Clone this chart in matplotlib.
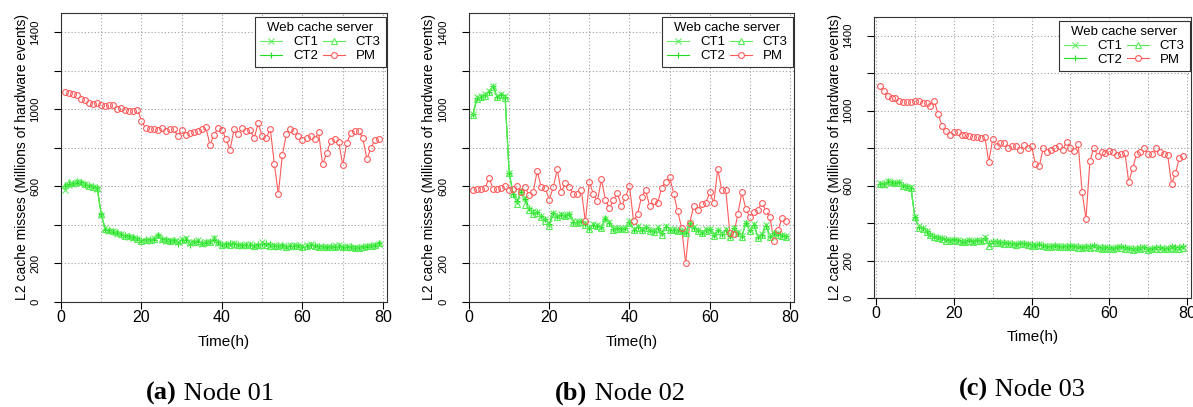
"""L2 cache misses of a web cache server on three nodes (CT1-CT3 containers vs PM)."""
import numpy as np
import matplotlib
matplotlib.use("Agg")
import matplotlib.pyplot as plt
from matplotlib.collections import LineCollection
from matplotlib.lines import Line2D

plt.rcParams["font.family"] = ["Liberation Sans", "DejaVu Sans"]

HOURS = np.arange(1, 80)

PM_A = [1089, 1084, 1077, 1072, 1054, 1047, 1035, 1030, 1032, 1025,
        1018, 1020, 1021, 1004, 1009, 999, 992, 992, 999, 940,
        902, 899, 899, 895, 902, 885, 897, 900, 859, 894,
        869, 876, 881, 890, 900, 906, 817, 868, 902, 895,
        845, 790, 897, 873, 902, 890, 894, 850, 928, 859,
        852, 900, 717, 560, 764, 871, 899, 888, 864, 842,
        852, 862, 845, 880, 714, 771, 835, 845, 833, 710,
        824, 878, 887, 888, 850, 741, 798, 842, 845]
CT1_A = [580, 608, 615, 625, 618, 612, 600, 596, 588, 450,
         382, 368, 370, 355, 352, 340, 335, 332, 325, 315,
         318, 322, 330, 340, 322, 318, 324, 316, 310, 326,
         330, 306, 310, 320, 302, 312, 310, 330, 306, 296,
         298, 300, 308, 296, 290, 302, 300, 290, 292, 310,
         296, 290, 296, 288, 290, 286, 294, 298, 290, 292,
         296, 300, 290, 286, 284, 288, 286, 294, 296, 284,
         290, 282, 286, 280, 286, 292, 290, 296, 300]
CT2_A = [600, 615, 620, 618, 624, 608, 606, 600, 595, 455,
         375, 374, 362, 360, 348, 346, 340, 336, 330, 320,
         326, 328, 324, 348, 330, 326, 318, 322, 300, 320,
         322, 296, 318, 312, 310, 308, 318, 322, 314, 300,
         302, 306, 300, 300, 298, 298, 296, 296, 300, 302,
         308, 300, 292, 296, 298, 292, 290, 290, 294, 288,
         292, 294, 296, 292, 290, 284, 290, 288, 290, 288,
         286, 290, 282, 284, 290, 288, 294, 292, 304]
CT3_A = [608, 625, 616, 626, 622, 612, 604, 598, 590, 455,
         380, 372, 368, 362, 352, 344, 340, 336, 328, 318,
         322, 324, 326, 350, 326, 322, 318, 320, 316, 322,
         326, 312, 314, 316, 306, 310, 312, 330, 310, 298,
         300, 298, 302, 296, 294, 296, 298, 292, 294, 296,
         294, 292, 290, 292, 296, 288, 290, 292, 290, 288,
         292, 296, 290, 288, 286, 284, 286, 288, 290, 284,
         286, 284, 282, 280, 284, 290, 290, 294, 306]

PM_B = [581, 584, 584, 591, 645, 588, 588, 591, 600, 582,
        586, 603, 569, 595, 553, 570, 681, 595, 591, 532,
        596, 688, 570, 619, 596, 560, 560, 579, 418, 624,
        560, 525, 636, 531, 487, 531, 565, 496, 544, 603,
        422, 455, 546, 581, 500, 524, 512, 591, 624, 650,
        563, 472, 384, 202, 410, 496, 475, 510, 515, 569,
        513, 691, 581, 581, 358, 353, 455, 569, 482, 441,
        468, 479, 515, 474, 441, 318, 372, 436, 423]
CT1_B = [975, 1062, 1068, 1078, 1095, 1122, 1068, 1078, 1068, 672,
         565, 530, 568, 540, 485, 470, 468, 448, 432, 410,
         462, 448, 455, 452, 458, 420, 418, 420, 410, 385,
         405, 398, 390, 430, 415, 382, 385, 382, 386, 420,
         380, 392, 378, 390, 375, 372, 388, 362, 392, 378,
         380, 375, 370, 362, 410, 390, 375, 362, 378, 380,
         350, 375, 360, 378, 345, 386, 362, 342, 412, 376,
         405, 340, 352, 398, 345, 360, 356, 350, 345]
CT2_B = [978, 1060, 1066, 1075, 1092, 1120, 1066, 1075, 1066, 670,
         562, 525, 570, 535, 490, 468, 465, 445, 430, 405,
         460, 445, 452, 450, 455, 415, 415, 418, 405, 382,
         402, 395, 388, 432, 412, 378, 382, 380, 384, 415,
         376, 390, 375, 388, 372, 370, 385, 358, 390, 375,
         376, 372, 368, 360, 408, 386, 372, 360, 375, 378,
         346, 372, 355, 375, 342, 384, 360, 340, 410, 374,
         402, 336, 350, 395, 342, 358, 352, 346, 342]
CT3_B = [971, 1055, 1062, 1070, 1090, 1115, 1062, 1072, 1060, 668,
         560, 510, 575, 505, 478, 455, 460, 440, 420, 395,
         455, 440, 450, 445, 452, 410, 410, 415, 400, 378,
         398, 392, 384, 436, 408, 372, 380, 378, 380, 410,
         372, 385, 372, 384, 368, 365, 380, 350, 388, 372,
         372, 368, 366, 356, 405, 382, 368, 356, 370, 374,
         340, 368, 348, 370, 338, 380, 356, 336, 410, 370,
         400, 332, 346, 392, 338, 356, 348, 342, 338]

PM_C = [1133, 1106, 1079, 1067, 1067, 1052, 1047, 1047, 1047, 1049,
        1049, 1043, 1043, 1026, 1052, 981, 918, 894, 870, 885,
        888, 870, 870, 865, 858, 858, 856, 861, 726, 847,
        812, 829, 829, 803, 809, 814, 790, 817, 801, 814,
        715, 703, 799, 781, 790, 803, 809, 790, 835, 803,
        785, 820, 567, 423, 729, 803, 760, 778, 776, 785,
        781, 763, 769, 776, 617, 692, 769, 781, 799, 769,
        769, 799, 781, 769, 763, 610, 665, 747, 756]
CT1_C = [612, 605, 625, 615, 612, 618, 600, 592, 590, 435,
         382, 372, 355, 338, 328, 322, 318, 312, 310, 312,
         308, 300, 305, 308, 304, 308, 305, 325, 284, 300,
         298, 296, 294, 292, 290, 288, 292, 290, 286, 284,
         282, 286, 280, 278, 276, 280, 276, 278, 274, 280,
         276, 272, 270, 274, 272, 276, 270, 268, 272, 268,
         266, 270, 272, 268, 266, 262, 264, 268, 270, 262,
         264, 266, 268, 264, 266, 270, 266, 268, 272]
CT2_C = [610, 612, 618, 620, 615, 620, 602, 596, 588, 432,
         378, 376, 358, 340, 330, 325, 320, 315, 312, 314,
         310, 304, 306, 310, 306, 310, 308, 318, 292, 304,
         302, 300, 298, 294, 292, 290, 294, 292, 288, 286,
         285, 290, 282, 280, 280, 282, 278, 280, 276, 282,
         278, 275, 272, 276, 275, 285, 272, 270, 274, 270,
         268, 272, 276, 270, 268, 265, 266, 270, 272, 264,
         268, 270, 270, 266, 268, 275, 270, 270, 275]
CT3_C = [608, 610, 622, 618, 614, 616, 598, 590, 585, 430,
         375, 368, 352, 334, 325, 320, 314, 302, 306, 308,
         304, 298, 300, 305, 300, 304, 302, 312, 280, 296,
         294, 292, 290, 288, 286, 284, 288, 286, 282, 280,
         278, 282, 276, 274, 272, 276, 272, 274, 270, 276,
         272, 268, 266, 270, 268, 272, 266, 264, 268, 264,
         262, 266, 268, 264, 262, 258, 260, 264, 266, 258,
         260, 262, 264, 260, 262, 266, 262, 264, 268]

SERIES = ["CT1", "CT2", "CT3", "PM"]
PANELS = [
    ("(a)", " Node 01", [CT1_A, CT2_A, CT3_A, PM_A]),
    ("(b)", " Node 02", [CT1_B, CT2_B, CT3_B, PM_B]),
    ("(c)", " Node 03", [CT1_C, CT2_C, CT3_C, PM_C]),
]
for _, _, vals in PANELS:
    for v in vals:
        assert len(v) == len(HOURS)

STYLE = {
    "CT1": dict(color="#66ee66", marker="x"),
    "CT2": dict(color="#22dd22", marker="+"),
    "CT3": dict(color="#55ee55", marker="^"),
    "PM": dict(color="#ff5a5a", marker="o"),
}

W, H = 1193, 407
# axes boxes in pixels: left, top, width, height
BOXES = [(61, 13, 326, 289), (469, 13, 325, 289), (874, 17, 317, 281)]
XLIMS = [(0, 81), (0, 81), (-0.5, 81)]
YLAB_X = [22, 429, 835]
XLAB_Y = [342, 342, 337]
CAP_X = [210, 620, 1022]
CAP_Y = [400, 400, 396]


def gapped_line(ax, x, y, gap, **kw):
    """R type='b' style: segments that stop short of each point."""
    pts = ax.transData.transform(np.column_stack([x, y]))
    inv = ax.transData.inverted()
    segs = []
    for p, q in zip(pts[:-1], pts[1:]):
        d = q - p
        length = np.hypot(*d)
        if length > 2 * gap:
            u = d / length
            segs.append(inv.transform(np.array([p + u * gap, q - u * gap])))
    ax.add_collection(LineCollection(segs, **kw))


fig = plt.figure(figsize=(W / 100, H / 100), dpi=100)
renderer = fig.canvas.get_renderer()

for i, (tag, name, vals) in enumerate(PANELS):
    l, t, w, h = BOXES[i]
    ax = fig.add_axes([l / W, (H - t - h) / H, w / W, h / H])
    ax.set_xlim(*XLIMS[i])
    ax.set_ylim(0, 1500)

    ax.set_xticks([0, 20, 40, 60, 80])
    ax.set_xticks(range(0, 81, 10), minor=True)
    ax.set_yticks(range(0, 1401, 200))
    ax.set_yticklabels(["0", "200", "", "600", "", "1000", "", "1400"],
                       rotation=90, va="center")
    ax.tick_params(axis="x", which="major", length=5, width=0.8,
                   labelsize=11.5, pad=0.5)
    ax.tick_params(axis="x", which="minor", length=0)
    ax.tick_params(axis="y", length=5, width=0.8, labelsize=8.2, pad=10)
    ax.grid(True, which="both", axis="x", color="#a0a0a0",
            linestyle=(0, (1, 2)), linewidth=0.8)
    ax.grid(True, which="major", axis="y", color="#a0a0a0",
            linestyle=(0, (1, 2)), linewidth=0.8)
    ax.set_axisbelow(True)
    for sp in ax.spines.values():
        sp.set_linewidth(0.8)
        sp.set_color("#333333")

    for s, v in zip(SERIES, vals):
        st = STYLE[s]
        gapped_line(ax, HOURS, v, 2.6, colors=st["color"], linewidths=0.8,
                    zorder=2)
        ax.plot(HOURS, v, ls="none", marker=st["marker"], ms=4.2,
                mfc="none", mec=st["color"], mew=0.8, zorder=3)

    handles = [Line2D([], [], color=STYLE[s]["color"], lw=0.8,
                      marker=STYLE[s]["marker"], ms=4.2, mew=0.8,
                      mfc="white", mec=STYLE[s]["color"]) for s in SERIES]
    leg = ax.legend(handles, SERIES, ncol=2, title="Web cache server",
                    loc="upper right", bbox_to_anchor=(1.0, 0.99),
                    fontsize=9.5, title_fontsize=9.5, frameon=True,
                    fancybox=False, framealpha=1, edgecolor="#333333",
                    handlelength=1.7, handletextpad=0.8, columnspacing=0.35,
                    labelspacing=0.12, borderpad=0.4, borderaxespad=0.1)
    leg.get_frame().set_linewidth(0.8)
    leg.set_zorder(5)

    fig.text(YLAB_X[i] / W, 1 - (t + h / 2) / H,
             "L2 cache misses (Millions of hardware events)",
             rotation=90, ha="center", va="center", fontsize=10)
    fig.text((l + w / 2) / W, 1 - XLAB_Y[i] / H, "Time(h)",
             ha="center", va="center", fontsize=11)

    # two-part caption (bold tag + plain name) centred on CAP_X
    t1 = fig.text(0, 0, tag, fontsize=19, fontweight="bold",
                  family="Liberation Serif", ha="right", va="baseline")
    t2 = fig.text(0, 0, name, fontsize=19, family="Liberation Serif",
                  ha="left", va="baseline")
    w1 = t1.get_window_extent(renderer).width
    w2 = t2.get_window_extent(renderer).width
    x0 = CAP_X[i] - (w1 + w2) / 2
    t1.set_position(((x0 + w1) / W, 1 - CAP_Y[i] / H))
    t2.set_position(((x0 + w1) / W, 1 - CAP_Y[i] / H))

fig.savefig("out.png", dpi=100)
